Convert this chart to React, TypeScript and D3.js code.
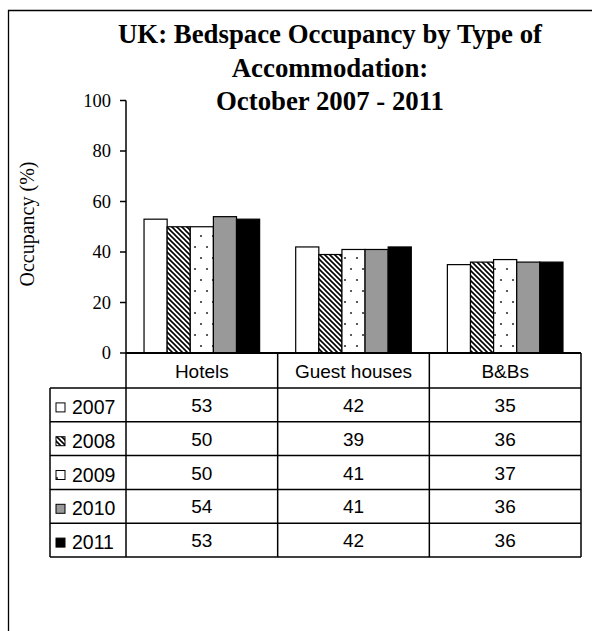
import React from "react";
import * as d3 from "d3";

const titleLines = ["UK: Bedspace Occupancy by Type of", "Accommodation:", "October 2007 - 2011"];
const categories = ["Hotels", "Guest houses", "B&Bs"];
const years = ["2007", "2008", "2009", "2010", "2011"];
const v2007 = [53, 42, 35];
const v2008 = [50, 39, 36];
const v2009 = [50, 41, 37];
const v2010 = [54, 41, 36];
const v2011 = [53, 42, 36];
const yTicks = [0, 20, 40, 60, 80, 100];
const yLabel = "Occupancy (%)";

const seriesValues = [v2007, v2008, v2009, v2010, v2011];
const fills = ["#ffffff", "url(#hatch)", "url(#dots)", "#999999", "#000000"];

export default function App() {
  const W = 592, H = 631;
  const left = 126, right = 581;
  const y0 = 353, y100 = 100.5;
  const y = d3.scaleLinear().domain([0, 100]).range([y0, y100]);
  const x = d3.scaleBand().domain(categories).range([left, right]).paddingInner(0).paddingOuter(0);
  const xi = d3.scaleBand().domain(years).range([0, x.bandwidth()]).paddingInner(0).paddingOuter(0.78);
  const headerBottom = 388;
  const tableBottom = 557;
  const tableLeft = 50;
  const rowH = (tableBottom - headerBottom) / years.length;
  const serif = "'Liberation Serif', 'Times New Roman', serif";
  const sans = "'Liberation Sans', Arial, sans-serif";

  return (
    <svg width={W} height={H} style={{ position: "absolute", left: 0, top: 0, background: "#fff" }}>
      <defs>
        <pattern id="hatch" patternUnits="userSpaceOnUse" width="5" height="5">
          <rect width="5" height="5" fill="#fff" />
          <path d="M-1,-1 L6,6 M-1,4 L1,6 M4,-1 L6,1" stroke="#000" strokeWidth="1.6" />
        </pattern>
        <pattern id="dots" patternUnits="userSpaceOnUse" width="12" height="22">
          <rect width="12" height="22" fill="#fff" />
          <circle cx="3" cy="5" r="1.1" fill="#333" />
          <circle cx="9" cy="16" r="1.1" fill="#333" />
        </pattern>
      </defs>
      <rect x={0} y={0} width={W} height={H} fill="#fff" />
      <path d={`M8.5,${H} V10.5 H${W}`} fill="none" stroke="#000" strokeWidth={1.3} />

      {titleLines.map((t, i) => (
        <text key={i} x={330} y={43 + i * 33.5} textAnchor="middle" fontFamily={serif} fontWeight="bold" fontSize={26.8}>
          {t}
        </text>
      ))}

      {/* y axis */}
      <line x1={left} x2={left} y1={y(100)} y2={tableBottom} stroke="#000" strokeWidth={1.5} />
      {yTicks.map((t) => (
        <g key={t}>
          <line x1={left - 6} x2={left} y1={y(t)} y2={y(t)} stroke="#000" strokeWidth={1.5} />
          <text x={left - 15} y={y(t)} dy="0.35em" textAnchor="end" fontFamily={serif} fontSize={18.5}>
            {t}
          </text>
        </g>
      ))}
      <text transform={`translate(34,224) rotate(-90)`} textAnchor="middle" fontFamily={serif} fontSize={20}>
        {yLabel}
      </text>

      {/* bars */}
      {seriesValues.map((vals, si) =>
        categories.map((c, ci) => (
          <rect
            key={`${si}-${ci}`}
            x={(x(c) as number) + (xi(years[si]) as number)}
            y={y(vals[ci])}
            width={xi.bandwidth()}
            height={y(0) - y(vals[ci])}
            fill={fills[si]}
            stroke="#000"
            strokeWidth={1.2}
          />
        ))
      )}

      {/* table */}
      <line x1={left} x2={right} y1={y0} y2={y0} stroke="#000" strokeWidth={1.8} />
      {categories.map((c) => (
        <g key={c}>
          <line x1={(x(c) as number) + x.bandwidth()} x2={(x(c) as number) + x.bandwidth()} y1={y0} y2={tableBottom} stroke="#000" strokeWidth={1.5} />
          <text x={(x(c) as number) + x.bandwidth() / 2} y={(y0 + headerBottom) / 2 + 7} textAnchor="middle" fontFamily={sans} fontSize={19}>
            {c}
          </text>
        </g>
      ))}
      <line x1={tableLeft} x2={tableLeft} y1={headerBottom} y2={tableBottom} stroke="#000" strokeWidth={1.5} />
      <line x1={tableLeft} x2={right} y1={headerBottom} y2={headerBottom} stroke="#000" strokeWidth={1.5} />
      {years.map((yr, si) => {
        const top = headerBottom + si * rowH;
        const bottom = top + rowH;
        return (
          <g key={yr}>
            <line x1={tableLeft} x2={right} y1={bottom} y2={bottom} stroke="#000" strokeWidth={1.5} />
            <rect x={56} y={top + rowH / 2 - 2} width={9} height={9} fill={fills[si]} stroke="#000" strokeWidth={1} />
            <text x={72} y={top + rowH / 2 + 9} fontFamily={sans} fontSize={19.5}>
              {yr}
            </text>
            {categories.map((c, ci) => (
              <text key={c} x={(x(c) as number) + x.bandwidth() / 2} y={top + rowH / 2 + 7} textAnchor="middle" fontFamily={sans} fontSize={19}>
                {seriesValues[si][ci]}
              </text>
            ))}
          </g>
        );
      })}
    </svg>
  );
}
